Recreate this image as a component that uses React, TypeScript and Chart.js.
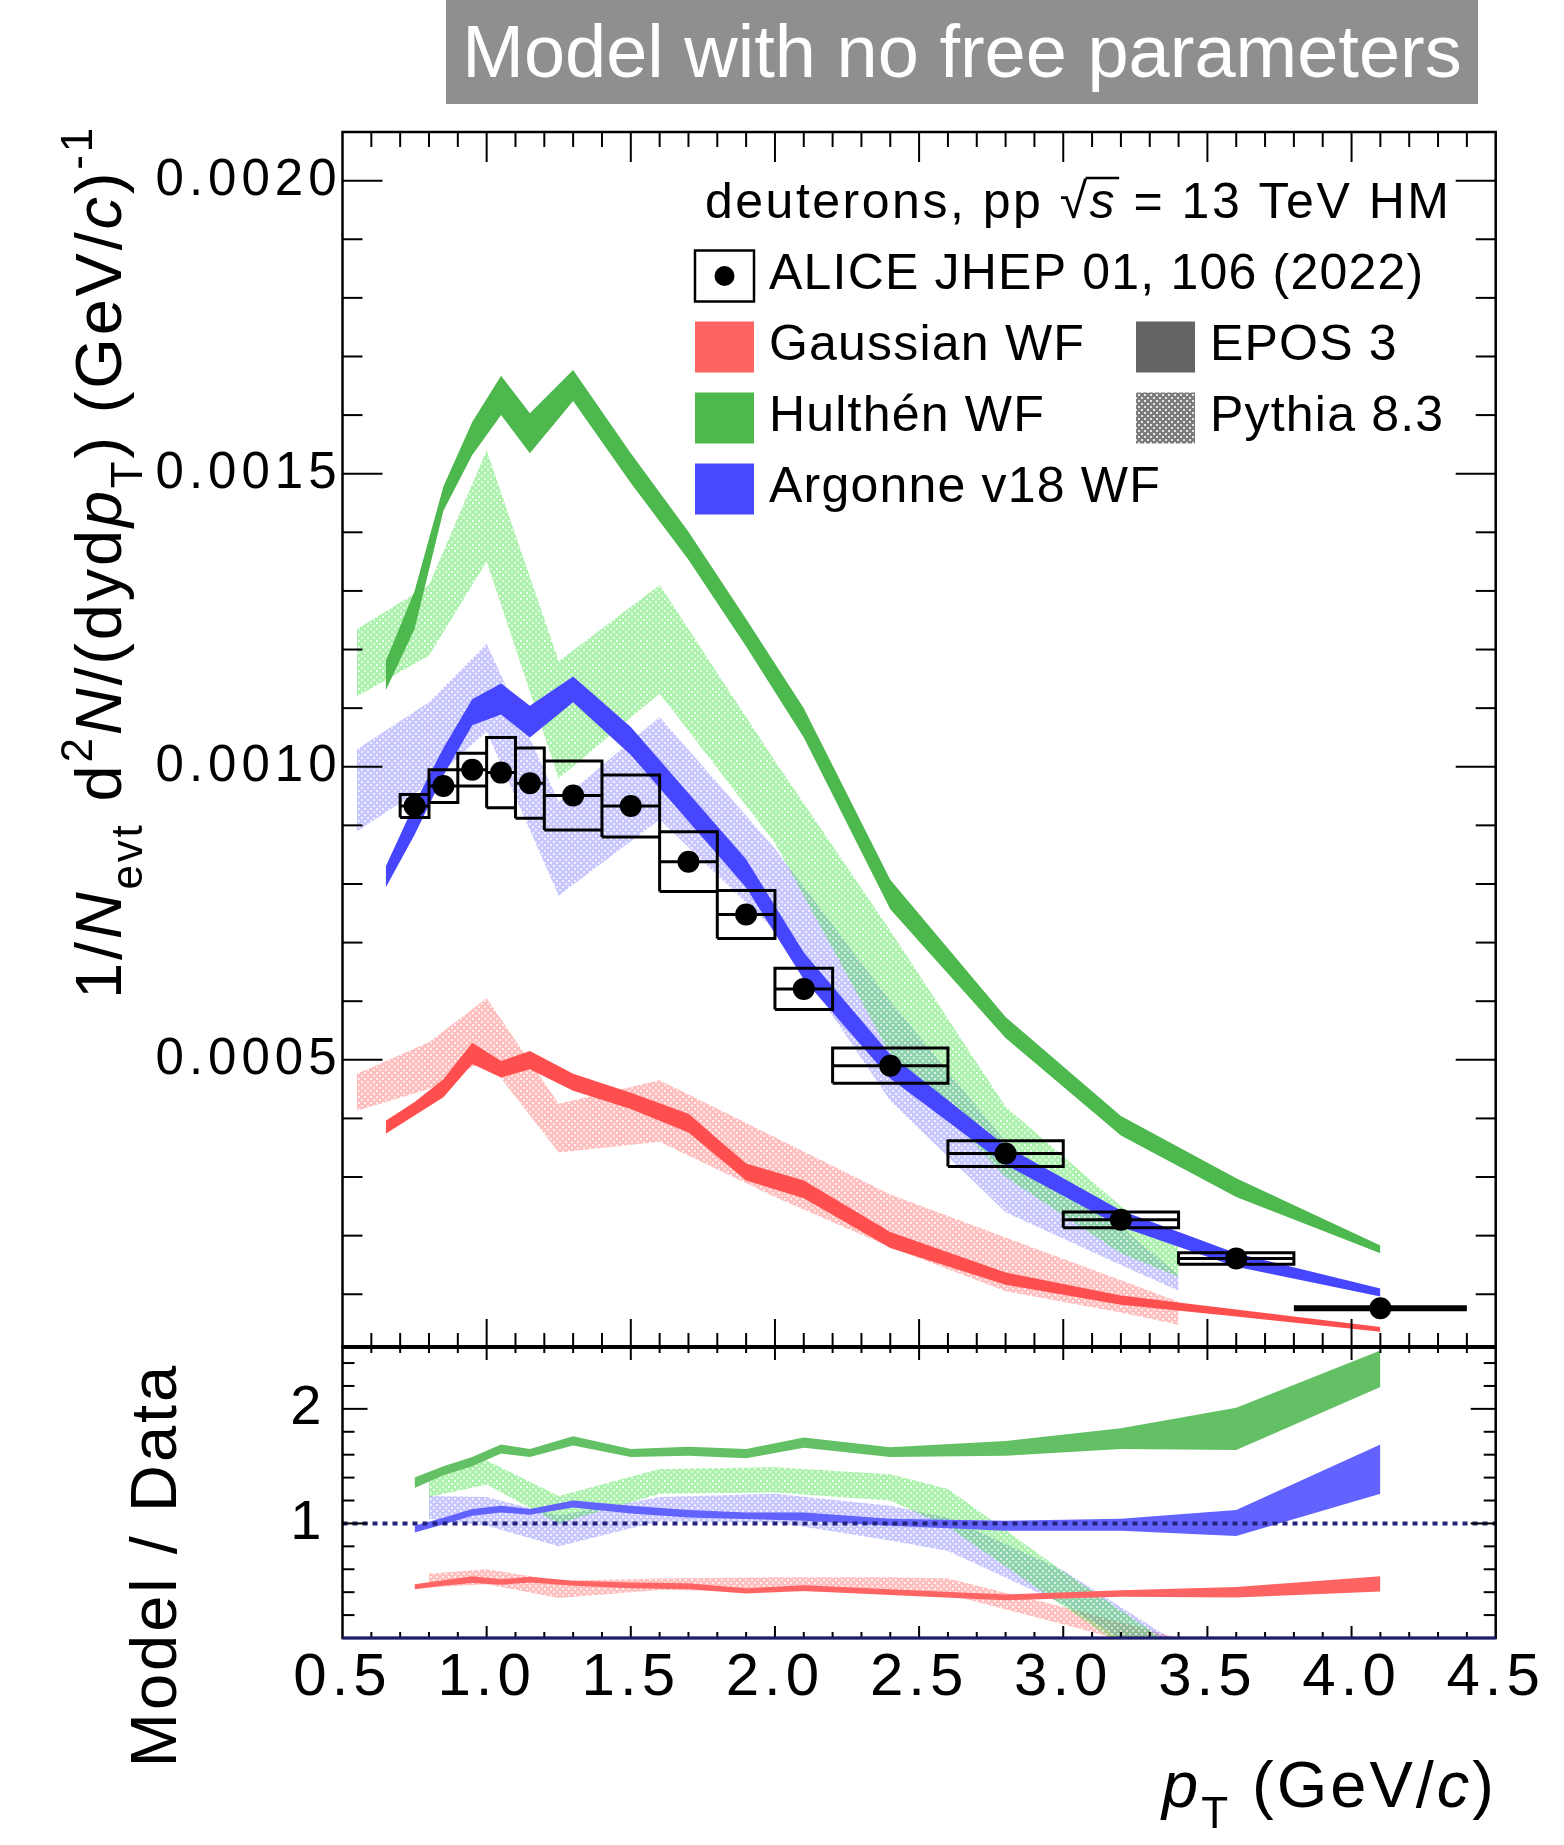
import React, { useEffect, useRef } from 'react';
import { Chart, registerables } from 'chart.js';

Chart.register(...registerables);

const FONT = "'Liberation Sans', Arial, Helvetica, sans-serif";

// ---------------- ALICE data ----------------
const dataPt = [0.75, 0.85, 0.95, 1.05, 1.15, 1.3, 1.5, 1.7, 1.9, 2.1, 2.4, 2.8, 3.2, 3.6, 4.1];
const dataBinLow = [0.7, 0.8, 0.9, 1.0, 1.1, 1.2, 1.4, 1.6, 1.8, 2.0, 2.2, 2.6, 3.0, 3.4, 3.8];
const dataBinHigh = [0.8, 0.9, 1.0, 1.1, 1.2, 1.4, 1.6, 1.8, 2.0, 2.2, 2.6, 3.0, 3.4, 3.8, 4.4];
const dataYield = [0.000933, 0.000967, 0.000995, 0.00099, 0.000972, 0.000951, 0.000933, 0.000838, 0.000748, 0.000621, 0.00049, 0.00034, 0.000227, 0.000161, 0.000076];
const dataSyst = [0.0000195, 0.000028, 0.000028, 0.00006, 0.00006, 0.000059, 0.000053, 0.000051, 0.000041, 0.000035, 0.00003, 0.000022, 0.0000135, 0.00001, 0.000004];

// ---------------- Coalescence models (main panel) ----------------
const modelPt = [0.65, 0.75, 0.85, 0.95, 1.05, 1.15, 1.3, 1.5, 1.7, 1.9, 2.1, 2.4, 2.8, 3.2, 3.6, 4.1];
const hulthenUp = [0.00118, 0.0013, 0.001478, 0.001588, 0.001667, 0.001603, 0.001677, 0.001535, 0.001401, 0.001252, 0.0011, 0.000807, 0.000573, 0.000404, 0.000298, 0.000183];
const hulthenLo = [0.00113, 0.001235, 0.001437, 0.001532, 0.0016, 0.001535, 0.001624, 0.001484, 0.001353, 0.001205, 0.00105, 0.000757, 0.000537, 0.000371, 0.000266, 0.00017];
const argonneUp = [0.00083, 0.000937, 0.001032, 0.001115, 0.001142, 0.001104, 0.001154, 0.001068, 0.000955, 0.000842, 0.000683, 0.000509, 0.000353, 0.000243, 0.00017, 0.00011];
const argonneLo = [0.000794, 0.000884, 0.000985, 0.001071, 0.001089, 0.00105, 0.00111, 0.00102, 0.000907, 0.000794, 0.000637, 0.000468, 0.000321, 0.000215, 0.000147, 0.000096];
const gaussUp = [0.000396, 0.000428, 0.000467, 0.000529, 0.000498, 0.000515, 0.000476, 0.000444, 0.000408, 0.000323, 0.000294, 0.000206, 0.000137, 0.000098, 0.000074, 0.000044];
const gaussLo = [0.000374, 0.000405, 0.000436, 0.000493, 0.00047, 0.000484, 0.000447, 0.000416, 0.000376, 0.000294, 0.000264, 0.000179, 0.000116, 0.000082, 0.000062, 0.000036];

// ---------------- Pythia 8.3 (main panel) ----------------
const pythiaPt = [0.55, 0.8, 1.0, 1.25, 1.6, 2.0, 2.4, 2.8, 3.2, 3.4];
const pyHulthenUp = [0.001235, 0.00131, 0.00154, 0.00118, 0.00131, 0.00101, 0.00072, 0.00042, 0.00025, 0.00018];
const pyHulthenLo = [0.00112, 0.00119, 0.00135, 0.00098, 0.001125, 0.00087, 0.00051, 0.0003, 0.00017, 0.00013];
const pyArgonneUp = [0.00103, 0.00111, 0.00121, 0.00094, 0.001085, 0.00086, 0.0006, 0.00036, 0.000215, 0.000133];
const pyArgonneLo = [0.00089, 0.00097, 0.00106, 0.00078, 0.00091, 0.00072, 0.00043, 0.00024, 0.00015, 0.000106];
const pyGaussUp = [0.000476, 0.00053, 0.000605, 0.000425, 0.000465, 0.000368, 0.00027, 0.000197, 0.000124, 0.000087];
const pyGaussLo = [0.000413, 0.00045, 0.0005, 0.000342, 0.00036, 0.000266, 0.00018, 0.000105, 0.000069, 0.000048];

// ---------------- Model / Data ----------------
const ratioPt = [0.75, 0.85, 0.95, 1.05, 1.15, 1.3, 1.5, 1.7, 1.9, 2.1, 2.4, 2.8, 3.2, 3.6, 4.1];
const hulthenRatioUp = [1.4, 1.5, 1.58, 1.69, 1.65, 1.76, 1.65, 1.67, 1.65, 1.75, 1.665, 1.72, 1.83, 2.01, 2.51];
const hulthenRatioLo = [1.31, 1.42, 1.5, 1.61, 1.58, 1.68, 1.58, 1.59, 1.57, 1.66, 1.58, 1.59, 1.65, 1.64, 2.19];
const argonneRatioUp = [0.98, 1.05, 1.125, 1.155, 1.125, 1.2, 1.155, 1.117, 1.096, 1.096, 1.04, 1.023, 1.04, 1.117, 1.69];
const argonneRatioLo = [0.92, 0.99, 1.067, 1.096, 1.076, 1.14, 1.087, 1.052, 1.038, 1.023, 0.98, 0.936, 0.936, 0.89, 1.26];
const gaussRatioUp = [0.47, 0.504, 0.54, 0.513, 0.534, 0.5, 0.484, 0.478, 0.434, 0.46, 0.426, 0.38, 0.417, 0.446, 0.54];
const gaussRatioLo = [0.426, 0.455, 0.48, 0.464, 0.484, 0.455, 0.434, 0.426, 0.388, 0.41, 0.376, 0.33, 0.359, 0.353, 0.405];

const pythiaRatioPt = [0.8, 1.0, 1.25, 1.6, 2.0, 2.4, 2.6, 3.0, 3.4];
const pyHulthenRatioUp = [1.43, 1.55, 1.24, 1.475, 1.49, 1.43, 1.3, 0.58, -0.1];
const pyHulthenRatioLo = [1.23, 1.34, 1.0, 1.26, 1.27, 1.2, 0.97, 0.28, -0.4];
const pyArgonneRatioUp = [1.24, 1.23, 1.07, 1.23, 1.26, 1.155, 1.05, 0.59, -0.05];
const pyArgonneRatioLo = [1.04, 0.98, 0.8, 1.02, 1.01, 0.85, 0.76, 0.295, -0.3];
const pyGaussRatioUp = [0.56, 0.6, 0.5, 0.52, 0.53, 0.53, 0.52, 0.27, 0.0];
const pyGaussRatioLo = [0.44, 0.47, 0.35, 0.42, 0.41, 0.4, 0.38, 0.12, -0.15];

const refLineX = [0.5, 4.5];
const refLineY = [1, 1];

// ---------------- Axes ----------------
const xTickValues = [0.5, 1.0, 1.5, 2.0, 2.5, 3.0, 3.5, 4.0, 4.5];
const xTickLabels = ['0.5', '1.0', '1.5', '2.0', '2.5', '3.0', '3.5', '4.0', '4.5'];
const mainYTickValues = [0.0005, 0.001, 0.0015, 0.002];
const mainYTickLabels = ['0.0005', '0.0010', '0.0015', '0.0020'];
const ratioYTickValues = [1, 2];
const ratioYTickLabels = ['1', '2'];
const X_MIN = 0.5, X_MAX = 4.5;
const Y_MIN = 0.00001, Y_MAX = 0.002083;
const R_MIN = 0, R_MAX = 2.54;

// ---------------- Texts ----------------
const titleText = 'Model with no free parameters';
const legendLeft = [
  { label: 'ALICE JHEP 01, 106 (2022)', kind: 'data', color: '' },
  { label: 'Gaussian WF', kind: 'fill', color: 'rgb(255,100,100)' },
  { label: 'Hulthén WF', kind: 'fill', color: 'rgb(76,185,76)' },
  { label: 'Argonne v18 WF', kind: 'fill', color: 'rgb(72,72,255)' },
];
const legendRight = [
  { label: 'EPOS 3', kind: 'fill', color: 'rgb(100,100,100)' },
  { label: 'Pythia 8.3', kind: 'pattern', color: '' },
];

const COL = {
  green: 'rgb(77,184,77)',
  blue: 'rgb(70,70,255)',
  red: 'rgb(255,78,78)',
  greenR: 'rgb(100,192,100)',
  blueR: 'rgb(98,98,255)',
  redR: 'rgb(255,100,100)',
};

type Piece = { t: string; it?: boolean; sub?: boolean; sup?: boolean };

function drawRich(ctx: any, pieces: Piece[], x: number, y: number, size: number, spacing: number, align: string) {
  const fontOf = (p: Piece) => `${p.it ? 'italic ' : ''}${p.sub || p.sup ? Math.round(size * 0.68) : size}px ${FONT}`;
  ctx.letterSpacing = spacing + 'px';
  ctx.textAlign = 'left';
  ctx.textBaseline = 'alphabetic';
  let total = 0;
  const widths = pieces.map((p) => {
    ctx.font = fontOf(p);
    const w = ctx.measureText(p.t).width;
    total += w;
    return w;
  });
  let cx = align === 'left' ? x : align === 'right' ? x - total : x - total / 2;
  const pos: number[] = [];
  pieces.forEach((p, i) => {
    ctx.font = fontOf(p);
    const dy = p.sub ? size * 0.33 : p.sup ? -size * 0.45 : 0;
    pos.push(cx);
    ctx.fillText(p.t, cx, y + dy);
    cx += widths[i];
  });
  return { pos, widths, end: cx };
}

function makePattern(rgb: number[], base: number, hole: number) {
  const c = document.createElement('canvas');
  c.width = 6;
  c.height = 6;
  const g = c.getContext('2d')!;
  g.fillStyle = `rgba(${rgb.join(',')},${base})`;
  g.fillRect(0, 0, 6, 6);
  g.clearRect(1, 1, 2, 2);
  g.clearRect(4, 4, 2, 2);
  g.fillStyle = `rgba(${rgb.join(',')},${hole})`;
  g.fillRect(1, 1, 2, 2);
  g.fillRect(4, 4, 2, 2);
  return g.createPattern(c, 'repeat')!;
}

const pts = (xs: number[], ys: number[]) => xs.map((x, i) => ({ x, y: ys[i] }));

function band(xs: number[], up: number[], lo: number[], color: any, axis: string, order: number) {
  return [
    { data: pts(xs, up), yAxisID: axis, borderColor: 'transparent', borderWidth: 0, pointRadius: 0, fill: '+1', backgroundColor: color, order },
    { data: pts(xs, lo), yAxisID: axis, borderColor: 'transparent', borderWidth: 0, pointRadius: 0, fill: false, backgroundColor: color, order },
  ];
}

const decorPlugin = {
  id: 'decor',
  beforeDraw(chart: any) {
    chart.ctx.letterSpacing = '5px';
  },
  afterDatasetsDraw(chart: any) {
    const ctx = chart.ctx;
    const xs = chart.scales.x;
    const ys = chart.scales.y;
    const yr = chart.scales.yr;
    const left = chart.chartArea.left;
    const right = chart.chartArea.right;
    const top = ys.top;
    const mid = ys.bottom;
    const bottom = yr.bottom;
    ctx.save();
    ctx.strokeStyle = '#000';
    ctx.lineWidth = 2;
    const line = (x1: number, y1: number, x2: number, y2: number) => {
      ctx.beginPath();
      ctx.moveTo(x1, y1);
      ctx.lineTo(x2, y2);
      ctx.stroke();
    };
    for (let k = 1; k <= 20; k++) {
      const p = ys.getPixelForValue(k * 0.0001);
      const L = k % 5 === 0 ? 40 : 20;
      line(left, p, left + L, p);
      line(right, p, right - L, p);
    }
    for (let k = 1; k <= 12; k++) {
      const p = yr.getPixelForValue(k * 0.2);
      const L = k % 5 === 0 ? 25 : 12;
      line(left, p, left + L, p);
      line(right, p, right - L, p);
    }
    for (let k = 6; k <= 44; k++) {
      const p = xs.getPixelForValue(k / 10);
      const major = k % 5 === 0;
      line(p, top, p, top + (major ? 30 : 15));
      line(p, mid, p, mid - (major ? 28 : 14));
      line(p, mid, p, mid + (major ? 13 : 6));
      line(p, bottom, p, bottom - (major ? 12 : 6));
    }
    ctx.lineWidth = 2.5;
    ctx.strokeRect(left, top, right - left, mid - top);
    ctx.strokeRect(left, mid, right - left, bottom - mid);
    ctx.lineWidth = 4;
    line(left, mid, right, mid);
    ctx.strokeStyle = '#1c1c70';
    ctx.lineWidth = 3;
    line(left, bottom, right, bottom);
    ctx.restore();
  },
  afterDraw(chart: any) {
    const ctx = chart.ctx;
    ctx.save();
    ctx.fillStyle = '#000';
    const h = drawRich(ctx, [{ t: 'deuterons, pp ' }, { t: '√' }, { t: 's', it: true }, { t: ' = 13 TeV HM' }], 705, 218, 50, 2.5, 'left');
    ctx.strokeStyle = '#000';
    ctx.lineWidth = 2.5;
    ctx.beginPath();
    ctx.moveTo(h.pos[2] - 4, 218 - 40);
    ctx.lineTo(h.pos[2] + h.widths[2] + 2, 218 - 40);
    ctx.stroke();

    const boxW = 59;
    const boxH = 51;
    const rowY = (i: number) => 276 + 71 * i;
    const pyPat = makePattern([80, 80, 80], 0.75, 0.15);
    const drawEntry = (e: any, bx: number, cy: number) => {
      if (e.kind === 'data') {
        ctx.strokeStyle = '#000';
        ctx.lineWidth = 2.5;
        ctx.strokeRect(bx, cy - boxH / 2, boxW, boxH);
        ctx.fillStyle = '#000';
        ctx.beginPath();
        ctx.arc(bx + boxW / 2, cy, 10, 0, Math.PI * 2);
        ctx.fill();
      } else {
        ctx.fillStyle = e.kind === 'pattern' ? pyPat : e.color;
        ctx.fillRect(bx, cy - boxH / 2, boxW, boxH);
      }
      ctx.fillStyle = '#000';
      drawRich(ctx, [{ t: e.label }], bx + 74, cy + 12.5, 50, 1.2, 'left');
    };
    legendLeft.forEach((e, i) => drawEntry(e, 695, rowY(i)));
    legendRight.forEach((e, i) => drawEntry(e, 1136, rowY(i + 1)));

    ctx.fillStyle = '#000';
    ctx.save();
    ctx.translate(121, 562);
    ctx.rotate(-Math.PI / 2);
    drawRich(
      ctx,
      [
        { t: '1/' },
        { t: 'N', it: true },
        { t: 'evt', sub: true },
        { t: ' d' },
        { t: '2', sup: true },
        { t: 'N', it: true },
        { t: '/(dyd' },
        { t: 'p', it: true },
        { t: 'T', sub: true },
        { t: ') (GeV/' },
        { t: 'c', it: true },
        { t: ')' },
        { t: '-1', sup: true },
      ],
      0,
      0,
      65,
      2.8,
      'center'
    );
    ctx.restore();

    ctx.save();
    ctx.translate(176, 1565);
    ctx.rotate(-Math.PI / 2);
    drawRich(ctx, [{ t: 'Model / Data' }], 0, 0, 65, 3, 'center');
    ctx.restore();

    drawRich(ctx, [{ t: 'p', it: true }, { t: 'T', sub: true }, { t: ' (GeV/' }, { t: 'c', it: true }, { t: ')' }], 1497, 1807, 65, 3, 'right');
    ctx.restore();
    ctx.letterSpacing = '0px';
  },
};

export default function App() {
  const ref = useRef<HTMLCanvasElement>(null);

  useEffect(() => {
    const canvas = ref.current!;
    const patGreen = makePattern([70, 225, 70], 0.45, 0.12);
    const patBlue = makePattern([110, 110, 255], 0.38, 0.1);
    const patRed = makePattern([255, 95, 95], 0.4, 0.1);

    const last = dataPt.length - 1;
    const boxPts: any[] = [];
    const errPts: any[] = [];
    dataPt.forEach((_, i) => {
      if (i === last) return;
      const lo = dataBinLow[i];
      const hi = dataBinHigh[i];
      const y0 = dataYield[i] - dataSyst[i];
      const y1 = dataYield[i] + dataSyst[i];
      boxPts.push({ x: lo, y: y0 }, { x: hi, y: y0 }, { x: hi, y: y1 }, { x: lo, y: y1 }, { x: lo, y: y0 }, { x: lo, y: null });
      errPts.push({ x: lo, y: dataYield[i] }, { x: hi, y: dataYield[i] }, { x: hi, y: null });
    });

    const datasets: any[] = [
      ...band(pythiaPt, pyHulthenUp, pyHulthenLo, patGreen, 'y', 10),
      ...band(pythiaPt, pyArgonneUp, pyArgonneLo, patBlue, 'y', 10),
      ...band(pythiaPt, pyGaussUp, pyGaussLo, patRed, 'y', 10),
      ...band(pythiaRatioPt, pyHulthenRatioUp, pyHulthenRatioLo, patGreen, 'yr', 10),
      ...band(pythiaRatioPt, pyArgonneRatioUp, pyArgonneRatioLo, patBlue, 'yr', 10),
      ...band(pythiaRatioPt, pyGaussRatioUp, pyGaussRatioLo, patRed, 'yr', 10),
      ...band(modelPt, hulthenUp, hulthenLo, COL.green, 'y', 5),
      ...band(modelPt, argonneUp, argonneLo, COL.blue, 'y', 5),
      ...band(modelPt, gaussUp, gaussLo, COL.red, 'y', 5),
      ...band(ratioPt, hulthenRatioUp, hulthenRatioLo, COL.greenR, 'yr', 5),
      ...band(ratioPt, argonneRatioUp, argonneRatioLo, COL.blueR, 'yr', 5),
      ...band(ratioPt, gaussRatioUp, gaussRatioLo, COL.redR, 'yr', 5),
      {
        data: pts(refLineX, refLineY),
        yAxisID: 'yr',
        borderColor: '#23237e',
        borderWidth: 4,
        borderDash: [5, 5],
        pointRadius: 0,
        fill: false,
        order: 3,
      },
      { data: boxPts, yAxisID: 'y', borderColor: '#000', borderWidth: 3, pointRadius: 0, fill: false, order: 2, spanGaps: false },
      { data: errPts, yAxisID: 'y', borderColor: '#000', borderWidth: 3, pointRadius: 0, fill: false, order: 2, spanGaps: false },
      {
        data: [
          { x: dataBinLow[last], y: dataYield[last] },
          { x: dataBinHigh[last], y: dataYield[last] },
        ],
        yAxisID: 'y',
        borderColor: '#000',
        borderWidth: 6,
        borderCapStyle: 'butt',
        pointRadius: 0,
        fill: false,
        order: 2,
      },
      {
        data: pts(dataPt, dataYield),
        yAxisID: 'y',
        showLine: false,
        pointRadius: 11,
        pointBackgroundColor: '#000',
        pointBorderColor: '#000',
        pointBorderWidth: 0,
        order: 1,
      },
    ];

    const chart = new Chart(canvas, {
      type: 'line',
      data: { datasets },
      options: {
        animation: false,
        responsive: false,
        devicePixelRatio: 1,
        events: [],
        layout: { padding: { left: 0, right: 68.3, top: 132, bottom: 0 } },
        plugins: { legend: { display: false }, tooltip: { enabled: false }, title: { display: false } },
        elements: { line: { tension: 0 } },
        scales: {
          x: {
            type: 'linear',
            min: X_MIN,
            max: X_MAX,
            position: 'bottom',
            afterBuildTicks: (s: any) => {
              s.ticks = xTickValues.map((v) => ({ value: v }));
            },
            afterFit: (s: any) => {
              s.height = 207;
            },
            ticks: {
              callback: (_v: any, i: number) => xTickLabels[i],
              font: { family: FONT, size: 60 },
              color: '#000',
              padding: 4,
              maxRotation: 0,
              minRotation: 0,
              autoSkip: false,
            },
            grid: { display: false, drawTicks: false },
            border: { display: false },
          },
          y: {
            type: 'linear',
            position: 'left',
            stack: 'panels',
            stackWeight: 1215,
            weight: 2,
            min: Y_MIN,
            max: Y_MAX,
            afterBuildTicks: (s: any) => {
              s.ticks = mainYTickValues.map((v) => ({ value: v }));
            },
            afterFit: (s: any) => {
              s.width = 342.5;
            },
            ticks: {
              callback: (_v: any, i: number) => mainYTickLabels[i],
              font: { family: FONT, size: 51 },
              color: '#000',
              padding: 1,
            },
            grid: { display: false, drawTicks: false },
            border: { display: false },
          },
          yr: {
            type: 'linear',
            position: 'left',
            stack: 'panels',
            stackWeight: 291,
            weight: 1,
            min: R_MIN,
            max: R_MAX,
            afterBuildTicks: (s: any) => {
              s.ticks = ratioYTickValues.map((v) => ({ value: v }));
            },
            afterFit: (s: any) => {
              s.width = 342.5;
            },
            ticks: {
              callback: (_v: any, i: number) => ratioYTickLabels[i],
              font: { family: FONT, size: 56 },
              color: '#000',
              padding: 16,
            },
            grid: { display: false, drawTicks: false },
            border: { display: false },
          },
        },
      } as any,
      plugins: [decorPlugin as any],
    });
    return () => chart.destroy();
  }, []);

  return (
    <div style={{ position: 'absolute', left: 0, top: 0, width: 1564, height: 1845, background: '#fff', overflow: 'hidden' }}>
      <canvas ref={ref} width={1564} height={1845} style={{ position: 'absolute', left: 0, top: 0, width: 1564, height: 1845 }} />
      <div
        style={{
          position: 'absolute',
          left: 446,
          top: 0,
          width: 1032,
          height: 104,
          background: '#8f8f8f',
          color: '#fff',
          font: `74px ${FONT}`,
          lineHeight: '104px',
          textAlign: 'center',
          whiteSpace: 'nowrap',
        }}
      >
        {titleText}
      </div>
    </div>
  );
}
